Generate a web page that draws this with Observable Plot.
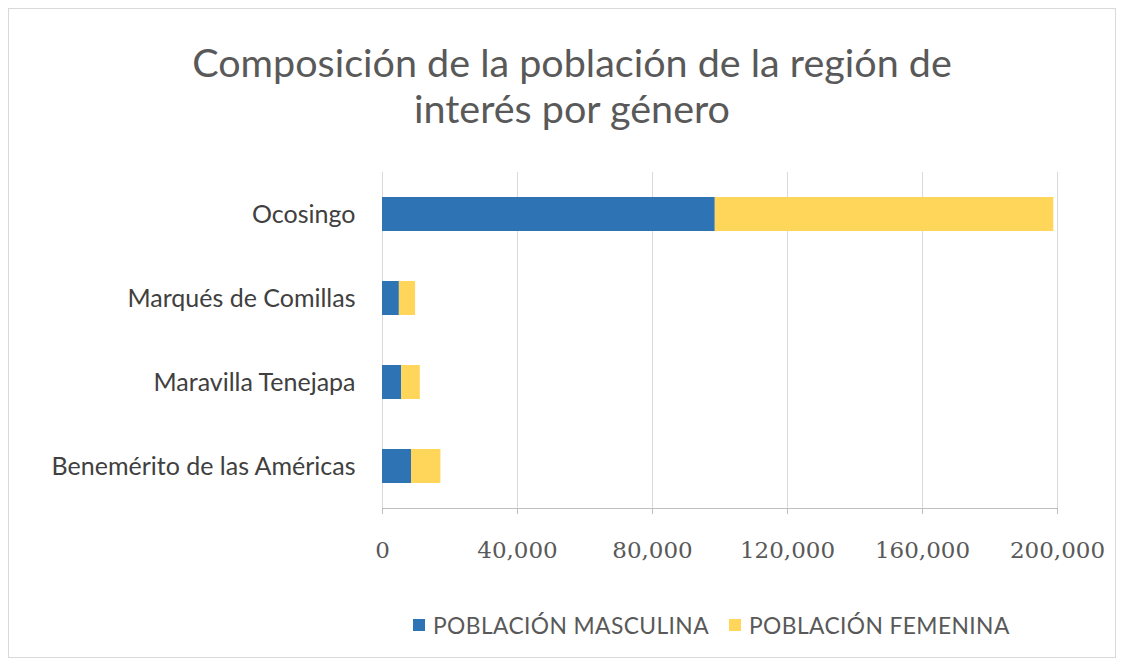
<!DOCTYPE html>
<html>
<head>
<meta charset="utf-8">
<script src="https://cdn.jsdelivr.net/npm/d3@7"></script>
<script src="https://cdn.jsdelivr.net/npm/@observablehq/plot@0.6"></script>
<style>
  html, body { margin: 0; padding: 0; background: #fff; width: 1128px; height: 666px; overflow: hidden; }
  #frame { position: absolute; left: 8px; top: 8px; width: 1108px; height: 650px; border: 1px solid #d9d9d9; box-sizing: border-box; }
  #title { position: absolute; left: 0; top: 39px; width: 1144px; text-align: center; font-family: Lato, sans-serif; font-size: 39.5px; line-height: 46px; color: #595959; }
  #chart { position: absolute; left: 0; top: 140px; }
  #legend { position: absolute; left: 413px; top: 611px; font-family: Lato, sans-serif; font-size: 22.8px; letter-spacing: 0.4px; color: #595959; display: flex; align-items: center; white-space: nowrap; }
  .sw { display: inline-block; width: 12px; height: 12px; margin-right: 8px; }
  .item { display: flex; align-items: center; margin-right: 20px; }
</style>
</head>
<body>
<div id="frame"></div>
<div id="title">Composición de la población de la región de<br>interés por género</div>
<div id="chart"></div>
<div id="legend"></div>
<script>
const municipios = ["Ocosingo", "Marqués de Comillas", "Maravilla Tenejapa", "Benemérito de las Américas"];
const series = ["POBLACIÓN MASCULINA", "POBLACIÓN FEMENINA"];
const masculina = [98600, 5000, 5700, 8600];
const femenina = [100300, 4800, 5500, 8700];
const ticks = [0, 40000, 80000, 120000, 160000, 200000];
const colors = ["#2E74B5", "#FFD55A"];

const data = [];
municipios.forEach((m, i) => {
  data.push({municipio: m, serie: series[0], valor: masculina[i]});
  data.push({municipio: m, serie: series[1], valor: femenina[i]});
});

const chart = Plot.plot({
  width: 1128,
  height: 440,
  marginLeft: 382,
  marginRight: 71,
  marginTop: 32,
  marginBottom: 72,
  style: {background: "transparent", fontFamily: "Lato, sans-serif"},
  x: {domain: [0, 200000]},
  y: {domain: municipios, paddingInner: 0.6, paddingOuter: 0.3},
  color: {domain: series, range: colors},
  marks: [
    Plot.gridX(ticks, {stroke: "#d9d9d9", strokeOpacity: 1}),
    Plot.barX(data, {y: "municipio", x: "valor", fill: "serie", order: series}),
    Plot.frame({anchor: "bottom", stroke: "#bfbfbf"}),
    Plot.axisX({ticks, tickSize: 6, stroke: "#bfbfbf", tickPadding: 27, tickFormat: d3.format(","), fontFamily: "'DejaVu Serif', serif", fontSize: 23, fill: "#595959", label: null}),
    Plot.axisY({tickSize: 0, tickPadding: 27, fontSize: 25, fill: "#404040", label: null, style: {letterSpacing: "0.8px"}})
  ]
});
document.getElementById("chart").appendChild(chart);

const legend = document.getElementById("legend");
series.forEach((s, i) => {
  const it = document.createElement("div");
  it.className = "item";
  it.innerHTML = `<span class="sw" style="background:${colors[i]}"></span><span>${s}</span>`;
  legend.appendChild(it);
});
</script>
</body>
</html>
